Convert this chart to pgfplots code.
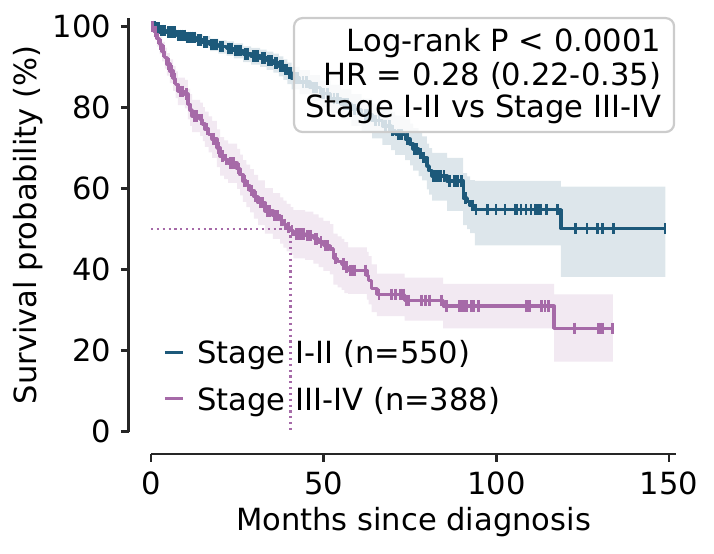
\documentclass[border=0pt]{standalone}
\usepackage{pgfplots}
\pgfplotsset{compat=1.18}
\usepackage{pgfplotstable}
\usepgfplotslibrary{fillbetween}
\usepackage{fontspec}
\setmainfont{DejaVu Sans}
\definecolor{kmblue}{RGB}{29,89,122}
\definecolor{kmpurple}{RGB}{166,106,168}
\newcommand{\f}{\fontsize{11}{13}\selectfont}

\pgfplotstableread{
t S hi lo
0 100 100 100
1.5 99.6 100 99.0
2.6 99.0 99.8 98.2
4.5 98.6 99.4 97.6
7.4 97.8 98.9 96.6
10 97.3 98.5 96.0
13.2 96.7 98.0 95.3
15 96.2 97.6 94.7
17.1 95.5 97.0 93.9
19.5 95.0 96.6 93.3
21.9 94.6 96.3 92.8
24 94.0 95.8 92.1
26.7 93.2 95.1 91.2
29 92.7 94.7 90.6
31.6 92.2 94.3 90.0
33.5 91.6 93.8 89.3
35.4 91.0 93.3 88.6
37 90.2 92.6 87.7
38.3 89.4 91.9 86.8
39.5 88.5 91.1 85.8
40.7 87.3 90.0 84.5
43 86.3 89.2 83.3
46 84.9 88.0 81.7
49 83.5 86.7 80.1
52 82.2 85.6 78.6
55 80.9 84.5 77.1
58 79.5 83.3 75.5
61 78.2 82.2 74.0
64 76.8 81.0 72.4
67 75.4 79.8 70.8
69.5 74.3 78.9 69.5
70.7 73.3 78.0 68.3
73.6 72.2 77.1 67.0
75 71.0 76.0 65.7
75.9 69.8 74.9 64.4
77.5 68.6 73.8 63.1
78.5 67.6 72.9 62.0
79.9 65.6 71.1 59.8
80.5 64.4 70.0 58.5
81.4 63.1 68.8 57.0
85.7 61.9 67.6 54.5
90.4 57.7 63.8 51.0
91.5 56.8 63.0 50.0
92.4 55.8 62.1 49.0
93.8 54.8 61.9 46.0
118.7 50.1 60.5 38.2
148.9 50.1 60.5 38.2
}\bluetab

\pgfplotstableread{
t y
0.5 100
1.0 100
1.8 99.6
2.2 99.6
3.0 99.0
3.5 99.0
4.0 99.0
5.0 98.6
5.5 98.6
6.2 98.6
6.8 98.6
7.8 97.8
8.4 97.8
9.0 97.8
9.6 97.8
10.5 97.3
11.2 97.3
11.8 97.3
12.5 97.3
13.6 96.7
14.3 96.7
15.4 96.2
16.2 96.2
17.5 95.5
18.3 95.5
19.0 95.5
20.0 95.0
20.8 95.0
22.4 94.6
23.2 94.6
24.5 94.0
25.3 94.0
26.0 94.0
27.2 93.2
28.0 93.2
29.5 92.7
30.3 92.7
31.0 92.7
32.2 92.2
33.0 92.2
34.0 91.6
34.8 91.6
35.9 91.0
36.5 91.0
37.5 90.2
38.0 90.2
38.8 89.4
39.2 89.4
40.0 88.5
40.4 88.5
41.5 87.3
42.5 87.3
44 86.3
45 86.3
47 84.9
48 84.9
50 83.5
51 83.5
53 82.2
54 82.2
56 80.9
57 80.9
59 79.5
60 79.5
62 78.2
63 78.2
65 76.8
66 76.8
68 75.4
69 75.4
70 74.3
71.6 73.3
72.5 73.3
74.2 72.2
76.4 69.8
77 69.8
78 68.6
79 67.6
81.9 63.1
82.5 63.1
83.2 63.1
83.8 63.1
84.8 63.1
86.4 61.9
87.8 61.9
88.7 61.9
90.0 61.9
91 57.7
93 55.8
94.1 54.8
97.4 54.8
99.9 54.8
102.5 54.8
105.4 54.8
105.9 54.8
107.1 54.8
108.6 54.8
110 54.8
111.2 54.8
111.9 54.8
112.7 54.8
114.6 54.8
117.7 54.8
122.8 50.1
126.2 50.1
129.3 50.1
130.8 50.1
133.9 50.1
148.8 50.1
}\bluecens

\pgfplotstableread{
t S hi lo
0 100 100 100
0.8 98.8 99.9 97.3
1.7 97 98.6 95
2.5 95.5 97.5 93.2
3.2 93.9 96.2 91.4
4 92.3 94.8 89.6
4.6 90.7 93.4 87.9
5.5 89 91.9 86
6.4 87.2 90.3 84.1
7.1 85.6 88.9 82.3
7.8 84 87.4 80.6
9.8 83.3 86.8 79.8
10.7 80.8 84.6 77.1
11.3 79.4 83.3 75.5
11.9 77.9 81.9 73.9
14.2 77.1 81.2 73
15 75.9 80.1 71.7
15.6 74.7 79 70.3
16.7 73.4 77.8 68.9
17.7 72.2 76.7 67.6
19.1 70 74.6 65.3
20 68 72.7 63.2
21.2 67.1 71.9 62.3
22.3 66.3 71.1 61.4
24.9 64.9 69.8 59.9
25.8 63.4 68.4 58.3
26.6 61.9 67 56.7
27.6 60.7 65.9 55.4
28.7 59.5 64.8 54.1
29.8 58 63.4 52.6
31 56.5 62 51
33 54.5 60.1 48.9
35.3 53.3 58.9 47.6
37.4 52.1 57.8 46.4
38.3 51.2 57 45.4
39.3 50.4 56.2 44.5
40.4 49.6 55.4 43.7
41.2 48.8 54.7 42.8
44.6 48.4 54.3 42.4
47 47.6 53.6 41.5
48.5 46.8 52.8 40.6
49.9 45.9 52 39.7
51.8 45.1 51.2 38.8
52.8 42.7 48.9 36.3
54 42.0 48.2 35.6
55.2 41.4 47.6 35
56 40.6 46.8 34.2
57.1 39.8 45.5 34
62.5 38.5 44.4 32.6
63 37.3 43.3 31.4
63.9 35.3 41.3 29.5
65.4 33.9 39 28.5
73.4 32.4 38 27.4
84.6 31.0 36.5 25.5
116.7 25.5 33.9 17.3
133.7 25.5 33.9 17.3
}\purptab

\pgfplotstableread{
t y
0.4 100
1.2 98.8
2.0 97
2.8 95.5
3.6 93.9
5.0 90.7
6.0 89
6.8 87.2
8.5 84
9.2 84
10.2 83.3
12.5 77.9
13.3 77.9
14.6 77.1
16.2 74.7
18.2 72.2
19.5 70
20.6 68
21.7 67.1
23.0 66.3
23.8 66.3
25.3 64.9
27.0 61.9
28.1 60.7
29.2 59.5
30.3 58
31.8 56.5
32.4 56.5
33.6 54.5
34.3 54.5
35.8 53.3
36.6 53.3
37.8 52.1
38.8 51.2
39.8 50.4
40.8 49.6
42 48.8
42.8 48.8
43.5 48.8
44.2 48.8
45.3 48.4
45.8 48.4
46.3 48.4
47.6 47.6
48 47.6
49.2 46.8
50.5 45.9
51.1 45.9
53.4 42.7
55.7 41.4
56.5 40.6
57.8 39.8
58.5 39.8
59 39.8
62 39.8
66 33.9
69.7 33.9
70.7 33.9
72.3 33.9
73.1 33.9
73.8 32.4
74.5 32.4
78.4 32.4
79.4 32.4
80.6 32.4
84.2 32.4
85.6 31
89.3 31
90 31
90.4 31
90.9 31
91.4 31
92.9 31
93.5 31
94.8 31
108.8 31
109.6 31
113.1 31
114.1 31
115.1 31
122.6 25.5
129.6 25.5
130.2 25.5
130.8 25.5
133.7 25.5
}\purpcens

\begin{document}
\begin{tikzpicture}
\begin{axis}[
  scale only axis, width=189pt, height=148.8pt,
  xmin=0, xmax=152, ymin=0, ymax=102,
  axis x line*=bottom, axis y line*=left,
  axis line style={-, line width=1pt, black!85},
  x axis line style={yshift=-8pt},
  y axis line style={xshift=-8pt},
  xtick={0,50,100,150}, ytick={0,20,40,60,80,100},
  tick align=outside, major tick length=2.8pt,
  tick style={line width=1pt, black!85},
  xtick style={yshift=-8pt}, ytick style={xshift=-8pt},
  xticklabel style={yshift=-8pt}, yticklabel style={xshift=-8pt},
  ticklabel style={font=\f},
  /pgf/number format/assume math mode=true,
  clip=false,
]
\addplot[draw=none, const plot, name path=bhi, forget plot] table[x=t, y=hi]{\bluetab};
\addplot[draw=none, const plot, name path=blo, forget plot] table[x=t, y=lo]{\bluetab};
\addplot[fill=kmblue, fill opacity=0.15, draw=none, forget plot] fill between[of=bhi and blo];
\addplot[draw=none, const plot, name path=phi, forget plot] table[x=t, y=hi]{\purptab};
\addplot[draw=none, const plot, name path=plo, forget plot] table[x=t, y=lo]{\purptab};
\addplot[fill=kmpurple, fill opacity=0.15, draw=none, forget plot] fill between[of=phi and plo];
\addplot[kmpurple, line width=0.8pt, dash pattern=on 0.8pt off 1.3pt, forget plot] coordinates {(0,50) (40.4,50) (40.4,0)};
\addplot[kmblue, line width=1.2pt, const plot, line join=round, forget plot] table[x=t, y=S]{\bluetab};
\addplot[kmblue, only marks, mark=|, mark size=2.05pt, mark options={line width=1pt}, forget plot] table[x=t, y=y]{\bluecens};
\addplot[kmpurple, line width=1.2pt, const plot, line join=round, forget plot] table[x=t, y=S]{\purptab};
\addplot[kmpurple, only marks, mark=|, mark size=2.05pt, mark options={line width=1pt}, forget plot] table[x=t, y=y]{\purpcens};
\end{axis}
% axis labels
\node[rotate=90, anchor=base, font=\f] at (-41.1pt,74.4pt) {Survival probability (\%)};
\node[anchor=base, font=\f] at (94.5pt,-35.4pt) {Months since diagnosis};
% legend
\draw[kmblue, line width=1.2pt] (5pt,28.6pt) -- (11.6pt,28.6pt);
\node[anchor=base west, inner sep=0pt, font=\f] at (16.5pt,24.4pt) {Stage I-II (n=550)};
\draw[kmpurple, line width=1.2pt] (5pt,12.0pt) -- (11.6pt,12.0pt);
\node[anchor=base west, inner sep=0pt, font=\f] at (16.5pt,7.8pt) {Stage III-IV (n=388)};
% annotation box
\draw[rounded corners=3pt, draw=black!20, line width=0.8pt, fill=white, fill opacity=0.8] (51.5pt,107.9pt) rectangle (188.3pt,148.9pt);
\node[anchor=base east, inner sep=0pt, font=\f] at (183.8pt,137.0pt) {Log-rank P < 0.0001};
\node[anchor=base east, inner sep=0pt, font=\f] at (183.8pt,124.6pt) {HR = 0.28 (0.22-0.35)};
\node[anchor=base east, inner sep=0pt, font=\f] at (183.8pt,113.0pt) {Stage I-II vs Stage III-IV};
\pgfresetboundingbox
\path[use as bounding box] (-54.36pt,-43.67pt) rectangle (202.68pt,155.41pt);
\end{tikzpicture}
\end{document}
